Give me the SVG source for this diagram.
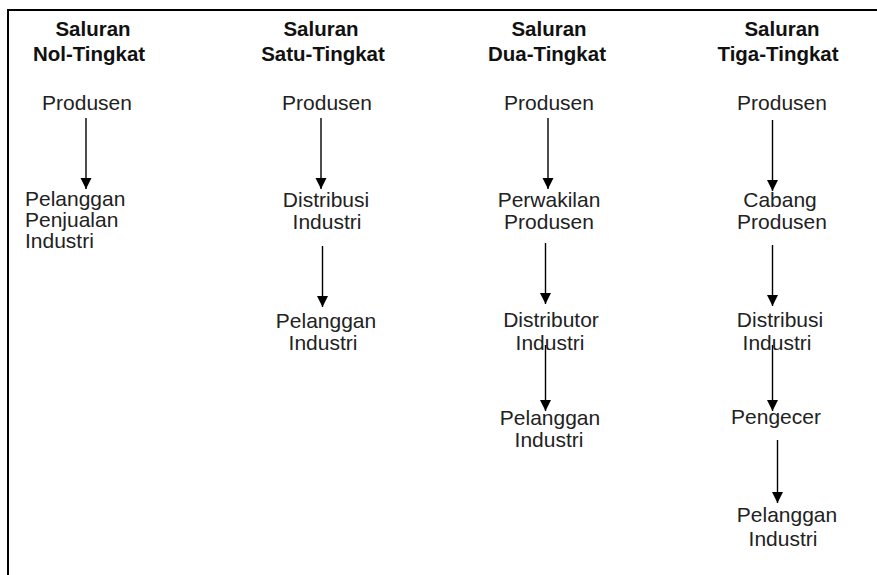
<svg xmlns="http://www.w3.org/2000/svg" width="877" height="575" viewBox="0 0 877 575">
  <defs>
    <marker id="arrowhead" viewBox="0 0 10 10" refX="10" refY="5" markerWidth="11" markerHeight="12" markerUnits="userSpaceOnUse" orient="auto">
      <path d="M0,0 L10,5 L0,10 z" fill="#000"/>
    </marker>
    <style>
      text { font-family: "Liberation Sans", Arial, sans-serif; }
      .head { font-size: 19.5px; font-weight: bold; fill: #111; text-anchor: middle; }
      .lbl { font-size: 20px; fill: #222; text-anchor: middle; }
      .lbl.left { text-anchor: start; }
      .edge { stroke: #000; stroke-width: 1.4; fill: none; marker-end: url(#arrowhead); }
      .frame { stroke: #000; stroke-width: 2; fill: none; }
    </style>
  </defs>

  <rect width="877" height="575" fill="#fff"/>
  <!-- outer frame (open on right and bottom) -->
  <path class="frame" d="M8,576 V10 H878"/>

  <!-- column headings -->
  <g id="head-nol">
    <text class="head" transform="translate(93 36) scale(1.05 1)">Saluran</text>
    <text class="head" transform="translate(89 61) scale(1.05 1)">Nol-Tingkat</text>
  </g>
  <g id="head-satu">
    <text class="head" transform="translate(321 36) scale(1.05 1)">Saluran</text>
    <text class="head" transform="translate(323 61) scale(1.05 1)">Satu-Tingkat</text>
  </g>
  <g id="head-dua">
    <text class="head" transform="translate(549 36) scale(1.05 1)">Saluran</text>
    <text class="head" transform="translate(547 61) scale(1.05 1)">Dua-Tingkat</text>
  </g>
  <g id="head-tiga">
    <text class="head" transform="translate(782 36) scale(1.05 1)">Saluran</text>
    <text class="head" transform="translate(778 61) scale(1.05 1)">Tiga-Tingkat</text>
  </g>

  <!-- zero-level channel -->
  <g id="n0-produsen">
    <text class="lbl" transform="translate(87 110) scale(1.05 1)">Produsen</text>
  </g>
  <g id="n0-pelanggan">
    <text class="lbl left" transform="translate(25 206) scale(1.05 1)">Pelanggan</text>
    <text class="lbl left" transform="translate(25 227) scale(1.05 1)">Penjualan</text>
    <text class="lbl left" transform="translate(25 248) scale(1.05 1)">Industri</text>
  </g>

  <!-- one-level channel -->
  <g id="n1-produsen">
    <text class="lbl" transform="translate(327 110) scale(1.05 1)">Produsen</text>
  </g>
  <g id="n1-distribusi">
    <text class="lbl" transform="translate(326 207) scale(1.05 1)">Distribusi</text>
    <text class="lbl" transform="translate(327 229) scale(1.05 1)">Industri</text>
  </g>
  <g id="n1-pelanggan">
    <text class="lbl" transform="translate(326 328) scale(1.05 1)">Pelanggan</text>
    <text class="lbl" transform="translate(323 350) scale(1.05 1)">Industri</text>
  </g>

  <!-- two-level channel -->
  <g id="n2-produsen">
    <text class="lbl" transform="translate(549 110) scale(1.05 1)">Produsen</text>
  </g>
  <g id="n2-perwakilan">
    <text class="lbl" transform="translate(549 207) scale(1.05 1)">Perwakilan</text>
    <text class="lbl" transform="translate(549 229) scale(1.05 1)">Produsen</text>
  </g>
  <g id="n2-distributor">
    <text class="lbl" transform="translate(551 327) scale(1.05 1)">Distributor</text>
    <text class="lbl" transform="translate(550 350) scale(1.05 1)">Industri</text>
  </g>
  <g id="n2-pelanggan">
    <text class="lbl" transform="translate(550 425) scale(1.05 1)">Pelanggan</text>
    <text class="lbl" transform="translate(549 447) scale(1.05 1)">Industri</text>
  </g>

  <!-- three-level channel -->
  <g id="n3-produsen">
    <text class="lbl" transform="translate(782 110) scale(1.05 1)">Produsen</text>
  </g>
  <g id="n3-cabang">
    <text class="lbl" transform="translate(780 207) scale(1.05 1)">Cabang</text>
    <text class="lbl" transform="translate(782 229) scale(1.05 1)">Produsen</text>
  </g>
  <g id="n3-distribusi">
    <text class="lbl" transform="translate(780 327) scale(1.05 1)">Distribusi</text>
    <text class="lbl" transform="translate(777 350) scale(1.05 1)">Industri</text>
  </g>
  <g id="n3-pengecer">
    <text class="lbl" transform="translate(776 424) scale(1.05 1)">Pengecer</text>
  </g>
  <g id="n3-pelanggan">
    <text class="lbl" transform="translate(787 522) scale(1.05 1)">Pelanggan</text>
    <text class="lbl" transform="translate(783 546) scale(1.05 1)">Industri</text>
  </g>

  <!-- connectors -->
  <g id="connectors">
    <line class="edge" x1="86" y1="118" x2="86" y2="189"/>

    <line class="edge" x1="321" y1="118" x2="321" y2="189"/>
    <line class="edge" x1="322.5" y1="246" x2="322.5" y2="307"/>

    <line class="edge" x1="548" y1="118" x2="548" y2="189"/>
    <line class="edge" x1="545.5" y1="243" x2="545.5" y2="304"/>
    <line class="edge" x1="545.5" y1="345" x2="545.5" y2="411"/>

    <line class="edge" x1="772.5" y1="120" x2="772.5" y2="191"/>
    <line class="edge" x1="772.5" y1="245" x2="772.5" y2="306"/>
    <line class="edge" x1="772.5" y1="345" x2="772.5" y2="411"/>
    <line class="edge" x1="777.5" y1="440" x2="777.5" y2="503"/>
  </g>
</svg>
